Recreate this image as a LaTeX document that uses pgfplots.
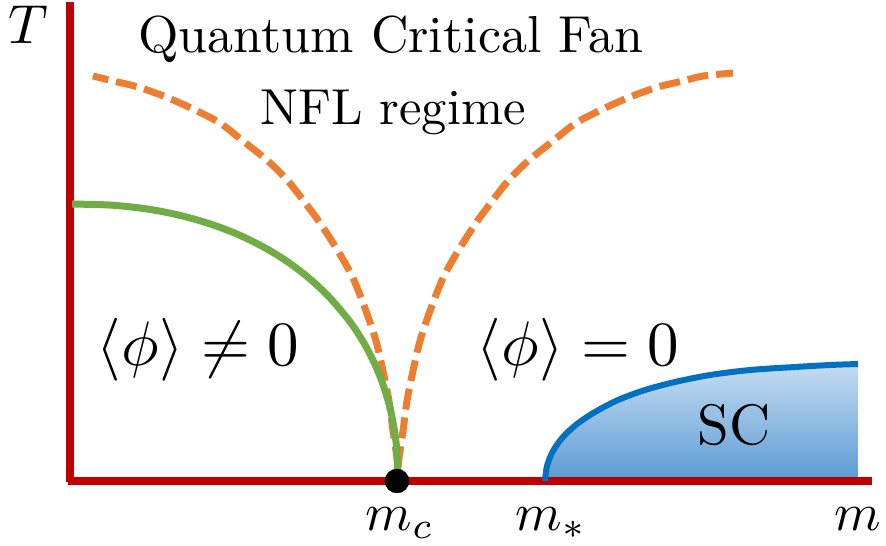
\documentclass[border=0pt]{standalone}
\usepackage{pgfplots}
\usepackage{graphicx}
\pgfplotsset{compat=1.18}
\definecolor{axred}{HTML}{C00000}
\definecolor{pgreen}{HTML}{70AD47}
\definecolor{porange}{HTML}{ED7D31}
\definecolor{pblue}{HTML}{0070C0}
\definecolor{sctop}{HTML}{C5DCF0}
\definecolor{scbot}{HTML}{5B9BD5}
\begin{document}
\begin{tikzpicture}
\useasboundingbox (0,0) rectangle (886pt,546pt);
\begin{axis}[
  scale only axis, width=886pt, height=546pt,
  xmin=-70, xmax=816, ymin=-65, ymax=481,
  hide axis, clip=false,
]
% SC fill
\addplot[draw=none, smooth, top color=sctop, bottom color=scbot] coordinates {
(475,0)(477,15)(483,30)(493,44)(507,57)(525,69)(548,81)(575,91)(605,99)(640,106)(680,111)(725,114)(760,116)(788,117)
} \closedcycle;
% axes
\addplot[axred, line width=7.5pt] coordinates {(0,-1)(0,479)};
\addplot[axred, line width=7.5pt] coordinates {(-2,0)(802,0)};
% critical point
\addplot[only marks, mark=*, mark size=12pt, black] coordinates {(327,0)};
% orange crossover lines
\addplot[porange, line width=7pt, smooth, dash pattern=on 21pt off 8pt] coordinates {
(328,14)(326,30)(323,50)(319,80)(313,110)(306,140)(296,170)(283,203)(268,230)(250,258)(236,277)(218,300)(198,320)(173,340)(150,358)(123,372)(96,384)(68,394)(43,400)(23,405)
};
\addplot[porange, line width=7pt, smooth, dash pattern=on 21pt off 8pt] coordinates {
(328,14)(330,30)(333,50)(337,80)(343,110)(350,140)(360,170)(373,203)(388,230)(406,258)(420,277)(438,300)(458,320)(483,340)(506,358)(533,372)(560,384)(588,394)(613,400)(633,405)(663,408)
};
% green ordered phase boundary
\addplot[pgreen, line width=7pt, smooth] coordinates {
(2,277)(34.6,276.2)(50.9,275.1)(67.2,273.3)(83.5,271)(99.8,267.9)(116.1,264.1)(132.4,259.5)(148.7,254.1)(165,247.8)(181.3,240.3)(197.6,231.7)(213.9,221.7)(230.2,210)(246.5,196.3)(262.8,180)(279.1,160.4)(287.3,148.7)(295.4,135.4)(301.9,123)(308.4,108.6)(313.3,95.6)(318.2,79.9)(321.5,66.6)(324.7,48.8)(326.4,35.6)(327.3,23.5)(328,0)
};
% SC boundary
\addplot[pblue, line width=6pt, smooth] coordinates {
(475,0)(477,15)(483,30)(493,44)(507,57)(525,69)(548,81)(575,91)(605,99)(640,106)(680,111)(725,114)(760,116)(788,117)
};
% labels
\node[anchor=base] at (axis cs:321,428) {\scalebox{5.2}{Quantum Critical Fan}};
\node[anchor=base] at (axis cs:323,356) {\scalebox{5.05}{NFL regime}};
\node[anchor=base] at (axis cs:128,115) {\scalebox{6.3}{$\langle\phi\rangle\neq 0$}};
\node[anchor=base] at (axis cs:508,115) {\scalebox{6.3}{$\langle\phi\rangle = 0$}};
\node[anchor=base] at (axis cs:664,36) {\scalebox{5.7}{SC}};
\node[anchor=base] at (axis cs:330,-50) {\scalebox{5.3}{$m_c$}};
\node[anchor=base] at (axis cs:481,-50) {\scalebox{5.3}{$m_*$}};
\node[anchor=base] at (axis cs:788,-50) {\scalebox{5.3}{$m$}};
\node[anchor=base] at (axis cs:-42,437) {\scalebox{5.5}{$T$}};
\end{axis}
\end{tikzpicture}
\end{document}
